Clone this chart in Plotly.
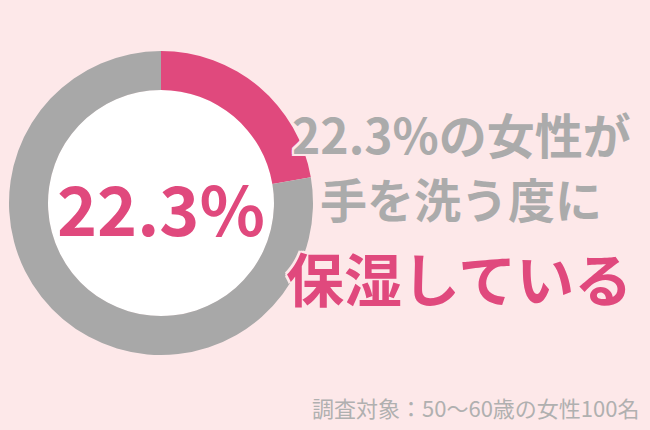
import plotly.graph_objects as go

# donut data
labels = ["保湿している", "その他"]
values = [22.3, 77.7]
colors = ["#E0497D", "#A8A8A8"]

center_text = "22.3%"
lines = ["22.3%の女性が", "手を洗う度に", "保湿している"]
note = "調査対象：50〜60歳の女性100名"

bg = "#FDE8E9"
pink = "#E0497D"
gray = "#ABABAB"
outline = ", ".join(f"{dx}px {dy}px 0 {bg}" for dx, dy in
                    [(2, 0), (-2, 0), (0, 2), (0, -2), (2, 2), (-2, -2), (2, -2), (-2, 2)])

W, H = 650, 430
cx, cy, r_out, r_in = 161, 203, 152, 113

fig = go.Figure(go.Pie(
    labels=labels, values=values,
    marker=dict(colors=colors, line=dict(width=0)),
    hole=r_in / r_out, sort=False, direction="clockwise", rotation=0,
    textinfo="none", hoverinfo="skip", showlegend=False,
    domain=dict(x=[(cx - r_out) / W, (cx + r_out) / W],
                y=[(H - cy - r_out) / H, (H - cy + r_out) / H]),
))

# white inside of the donut
fig.add_shape(type="circle", xref="paper", yref="paper", layer="below",
              x0=(cx - r_in) / W, x1=(cx + r_in) / W,
              y0=(H - cy - r_in) / H, y1=(H - cy + r_in) / H,
              fillcolor="white", line=dict(width=0))

font = "Noto Sans CJK JP"


def label(x, y, text, size, color, **kw):
    fig.add_annotation(x=x / W, y=(H - y) / H, xref="paper", yref="paper",
                       text=text, showarrow=False, xanchor=kw.pop("xanchor", "center"),
                       yanchor="middle", font=dict(family=font, size=size, color=color, **kw))


label(cx, 207, f"<b>{center_text}</b>", 68, pink)
label(461, 133, f"<b>{lines[0]}</b>", 48, gray, shadow=outline)
label(461, 198, f"<b>{lines[1]}</b>", 47, gray, shadow=outline)
label(459, 277, f"<b>{lines[2]}</b>", 58, pink, shadow=outline)
label(641, 407, note, 22, "#B0B0B0", xanchor="right")

fig.update_layout(width=W, height=H, margin=dict(l=0, r=0, t=0, b=0),
                  paper_bgcolor=bg, plot_bgcolor=bg)

fig.write_html("out.html", config={"displayModeBar": False},
               post_script="document.body.style.margin='0';")
